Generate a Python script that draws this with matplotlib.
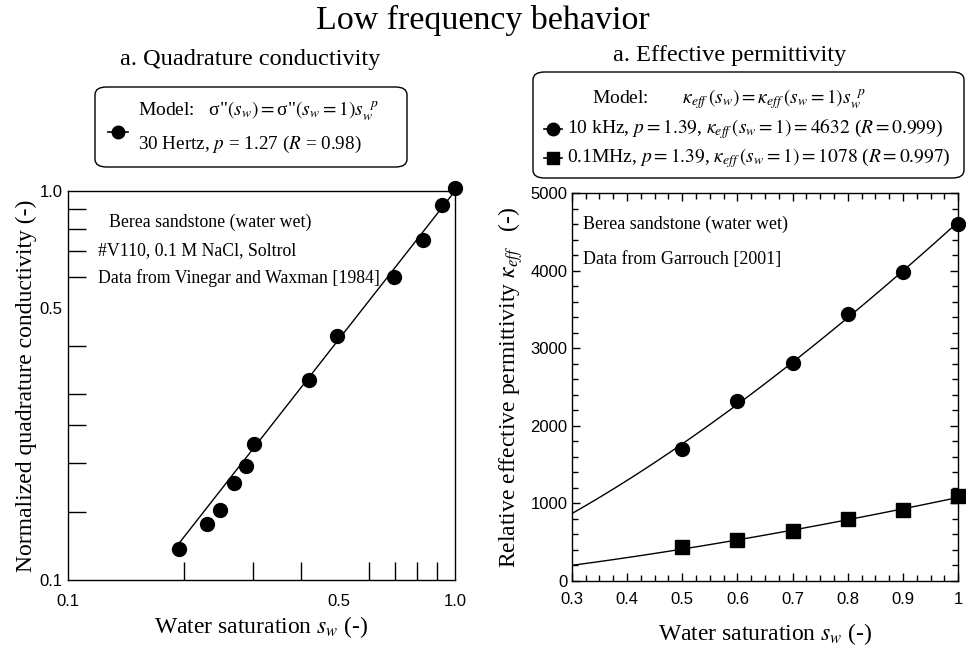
import matplotlib
matplotlib.use("Agg")
import numpy as np
import matplotlib.pyplot as plt
from matplotlib.patches import FancyBboxPatch
from matplotlib.lines import Line2D
from matplotlib.ticker import FixedLocator, NullFormatter, MultipleLocator, FuncFormatter

plt.rcParams["font.family"] = ["Liberation Serif", "DejaVu Serif"]
plt.rcParams["mathtext.fontset"] = "stix"

# quadrature conductivity, Vinegar and Waxman (1984), 30 Hz
sw_q = [0.194, 0.228, 0.247, 0.269, 0.289, 0.302, 0.419, 0.496, 0.695, 0.828, 0.924, 1.0]
sigma_q = [0.120, 0.139, 0.151, 0.178, 0.196, 0.224, 0.327, 0.423, 0.600, 0.750, 0.920, 1.02]
p_q = 1.27

# effective permittivity, Garrouch (2001)
sw_k = [0.5, 0.6, 0.7, 0.8, 0.9, 1.0]
kappa_10k = [1698, 2321, 2808, 3439, 3989, 4608]
kappa_01M = [442, 529, 649, 803, 916, 1096]
p_k = 1.39
k1_10k = 4632
k1_01M = 1078

sans = ["Liberation Sans", "DejaVu Sans"]

fig = plt.figure(figsize=(9.66, 6.48), dpi=100)
W, H = 966, 648


def fig_box(x0, y0, x1, y1):
    # pixel box (top-left origin) -> figure fraction rect
    return [x0 / W, 1 - y1 / H, (x1 - x0) / W, (y1 - y0) / H]


fig.text(0.5, 1 - 20 / H, "Low frequency behavior", ha="center", va="center", fontsize=24.5)

# ---- left panel: log-log
ax1 = fig.add_axes(fig_box(68, 191, 455, 580))
ax1.set_xscale("log")
ax1.set_yscale("log")
ax1.set_xlim(0.1, 1.0)
ax1.set_ylim(0.1, 1.0)
ax1.plot(sw_q, sigma_q, "o", color="black", markersize=10, clip_on=False, zorder=3)
xf = np.linspace(0.189, 1.0, 100)
ax1.plot(xf, xf ** p_q, color="black", lw=1)

ax1.xaxis.set_major_locator(FixedLocator([0.1, 0.5, 1.0]))
ax1.yaxis.set_major_locator(FixedLocator([0.1, 0.5, 1.0]))
ax1.xaxis.set_minor_locator(FixedLocator([0.2, 0.3, 0.4, 0.5, 0.6, 0.7, 0.8, 0.9]))
ax1.yaxis.set_minor_locator(FixedLocator([0.15, 0.2, 0.25, 0.3, 0.4, 0.6, 0.7, 0.8, 0.9]))
ax1.xaxis.set_minor_formatter(NullFormatter())
ax1.yaxis.set_minor_formatter(NullFormatter())
ax1.set_xticklabels(["0.1", "0.5", "1.0"])
ax1.set_yticklabels(["0.1", "0.5", "1.0"])
ax1.tick_params(which="major", length=0)
ax1.tick_params(axis="x", which="major", pad=10)
ax1.tick_params(axis="y", which="major", pad=4)
ax1.tick_params(which="minor", direction="in", length=13, width=1)
for lab in ax1.get_xticklabels() + ax1.get_yticklabels():
    lab.set_family(sans)
    lab.set_fontsize(12)
for s in ax1.spines.values():
    s.set_linewidth(1)

ax1.set_xlabel(r"Water saturation $s_w$ (-)", fontsize=17, labelpad=4)
ax1.set_ylabel("Normalized quadrature conductivity (-)", fontsize=17, labelpad=2)

ax1.text(0.105, 0.92, "Berea sandstone (water wet)", transform=ax1.transAxes, fontsize=12.8, va="center")
ax1.text(0.078, 0.848, "#V110, 0.1 M NaCl, Soltrol", transform=ax1.transAxes, fontsize=12.8, va="center")
ax1.text(0.078, 0.776, "Data from Vinegar and Waxman [1984]", transform=ax1.transAxes, fontsize=12.8, va="center")

fig.text(250 / W, 1 - 60 / H, "a. Quadrature conductivity", ha="center", va="center", fontsize=17.5)

# legend box, left
bx = fig_box(95, 87, 407, 167)
fig.patches.append(FancyBboxPatch((bx[0], bx[1]), bx[2], bx[3], boxstyle="round,pad=0,rounding_size=0.012",
                                  transform=fig.transFigure, fc="white", ec="black", lw=1))
fig.lines.append(Line2D([108 / W, 128 / W], [1 - 132 / H] * 2, color="black", lw=1.2,
                        transform=fig.transFigure))
fig.lines.append(Line2D([118 / W], [1 - 132 / H], color="black", marker="o", markersize=9,
                        transform=fig.transFigure))
fig.text(138 / W, 1 - 111 / H, r'Model:   σ"$(s_w) = $σ"$(s_w=1)s_w^{\ \ p}$', fontsize=14, va="center")
fig.text(138 / W, 1 - 144 / H, r"30 Hertz, $p$ = 1.27 ($R$ = 0.98)", fontsize=13.8, va="center")

# ---- right panel: linear
ax2 = fig.add_axes(fig_box(571.7, 193.3, 958.3, 581))
ax2.set_xlim(0.3, 1.0)
ax2.set_ylim(0, 5000)
xs = np.linspace(0.3, 1.0, 100)
ax2.plot(xs, k1_10k * xs ** p_k, color="black", lw=1)
ax2.plot(xs, k1_01M * xs ** p_k, color="black", lw=1)
ax2.plot(sw_k, kappa_10k, "o", color="black", markersize=10, clip_on=False, zorder=3)
ax2.plot(sw_k, kappa_01M, "s", color="black", markersize=10, clip_on=False, zorder=3)

ax2.xaxis.set_major_locator(MultipleLocator(0.1))
ax2.xaxis.set_minor_locator(MultipleLocator(0.025))
ax2.yaxis.set_major_locator(MultipleLocator(1000))
ax2.yaxis.set_minor_locator(MultipleLocator(200))
ax2.xaxis.set_major_formatter(FuncFormatter(lambda v, _: "1" if abs(v - 1) < 1e-9 else f"{v:.1f}"))
ax2.tick_params(which="both", direction="in", top=True, right=True, width=1)
ax2.tick_params(which="major", length=6)
ax2.tick_params(axis="x", which="major", pad=8)
ax2.tick_params(axis="y", which="major", pad=3)
ax2.tick_params(which="minor", length=4)
for lab in ax2.get_xticklabels() + ax2.get_yticklabels():
    lab.set_family(sans)
    lab.set_fontsize(12)
for s in ax2.spines.values():
    s.set_linewidth(1)

ax2.set_xlabel(r"Water saturation $s_w$ (-)", fontsize=17, labelpad=10)
ax2.set_ylabel(r"Relative effective permittivity $\kappa_{eff}$   (-)", fontsize=17, labelpad=4)

ax2.text(0.03, 0.92, "Berea sandstone (water wet)", transform=ax2.transAxes, fontsize=13, va="center")
ax2.text(0.03, 0.83, "Data from Garrouch [2001]", transform=ax2.transAxes, fontsize=13, va="center")

fig.text(730 / W, 1 - 55 / H, "a. Effective permittivity", ha="center", va="center", fontsize=17.5)

# legend box, right
bx = fig_box(533, 72, 964, 178)
fig.patches.append(FancyBboxPatch((bx[0], bx[1]), bx[2], bx[3], boxstyle="round,pad=0,rounding_size=0.012",
                                  transform=fig.transFigure, fc="white", ec="black", lw=1))
for yy, mk in [(129, "o"), (158, "s")]:
    fig.lines.append(Line2D([544 / W, 562 / W], [1 - yy / H] * 2, color="black", lw=1.2,
                            transform=fig.transFigure))
    fig.lines.append(Line2D([553 / W], [1 - yy / H], color="black", marker=mk, markersize=9,
                            transform=fig.transFigure))
fig.text(592 / W, 1 - 99 / H, r"Model:       $\kappa_{eff}\,(s_w) = \kappa_{eff}\,(s_w=1)s_w^{\ \ p}$",
         fontsize=14, va="center")
fig.text(567 / W, 1 - 129 / H,
         r"10 kHz, $p = 1.39$, $\kappa_{eff}\,(s_w = 1) = 4632$ ($R = 0.999$)", fontsize=14, va="center")
fig.text(567 / W, 1 - 158 / H,
         r"0.1MHz, $p = 1.39$, $\kappa_{eff}\,(s_w = 1) = 1078$ ($R = 0.997$)", fontsize=14, va="center")

fig.savefig("out.png", dpi=100)
